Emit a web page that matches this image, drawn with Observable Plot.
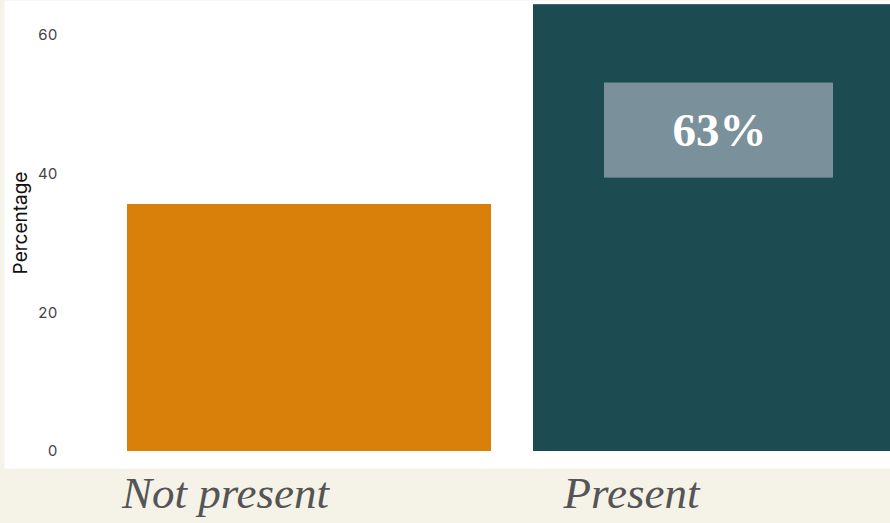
<!DOCTYPE html>
<html>
<head>
<meta charset="utf-8">
<script src="https://cdn.jsdelivr.net/npm/d3@7"></script>
<script src="https://cdn.jsdelivr.net/npm/@observablehq/plot@0.6"></script>
<style>
  html, body { margin: 0; padding: 0; background: #f5f2e8; overflow: hidden; width: 890px; height: 523px; }
  #chart { position: absolute; left: 0; top: 0; width: 940px; }
  #chart svg { max-width: none !important; width: 940px; height: 523px; }
</style>
</head>
<body>
<div id="chart"></div>
<script>
const categories = ["Not present", "Present"];
const values = [35.6, 64.4];
const colors = ["#d9800b", "#1c4c52"];
const labelCategory = "Present";
const labelText = "63%";
const labelBoxRange = [39.4, 53.1];
const yTicks = [0, 20, 40, 60];

const data = categories.map((c, i) => ({category: c, value: values[i], color: colors[i]}));
const labelData = [{category: labelCategory, y1: labelBoxRange[0], y2: labelBoxRange[1], text: labelText}];

const plot = Plot.plot({
  width: 940,
  height: 523,
  marginLeft: 85,
  marginRight: 1,
  marginTop: 0,
  marginBottom: 72,
  style: {background: "transparent", overflow: "visible", maxWidth: "none"},
  x: {domain: categories, padding: 0.1034},
  y: {domain: [0, 65]},
  marks: [
    Plot.frame({fill: "white", stroke: null, insetLeft: -81, insetBottom: -17, insetRight: -50}),
    Plot.barY(data, {x: "category", y: "value", fill: "color"}),
    Plot.barY(labelData, {x: "category", y1: "y1", y2: "y2", fill: "#7a909a", insetLeft: 71, insetRight: 64}),
    Plot.text(labelData, {
      x: "category", y: d => (d.y1 + d.y2) / 2, text: "text", dx: 4,
      fill: "white", fontSize: 47, fontWeight: "bold",
      fontFamily: "'Liberation Serif', serif", lineAnchor: "middle"
    }),
    Plot.axisY({
      ticks: yTicks, tickSize: 0, tickPadding: 28, label: null,
      fontSize: 15, fontFamily: "Inter, sans-serif", fill: "#444"
    }),
    Plot.text(["Percentage"], {
      frameAnchor: "left", rotate: -90, dx: -65, dy: -3,
      fontSize: 19, fontFamily: "Inter, sans-serif", fill: "#111", textAnchor: "middle"
    }),
    Plot.axisX({
      tickSize: 0, tickPadding: 25, label: null, dx: -84,
      fontSize: 45, fontStyle: "italic", fontFamily: "'Liberation Serif', serif", fill: "#555"
    })
  ]
});
document.getElementById("chart").appendChild(plot);
</script>
</body>
</html>
